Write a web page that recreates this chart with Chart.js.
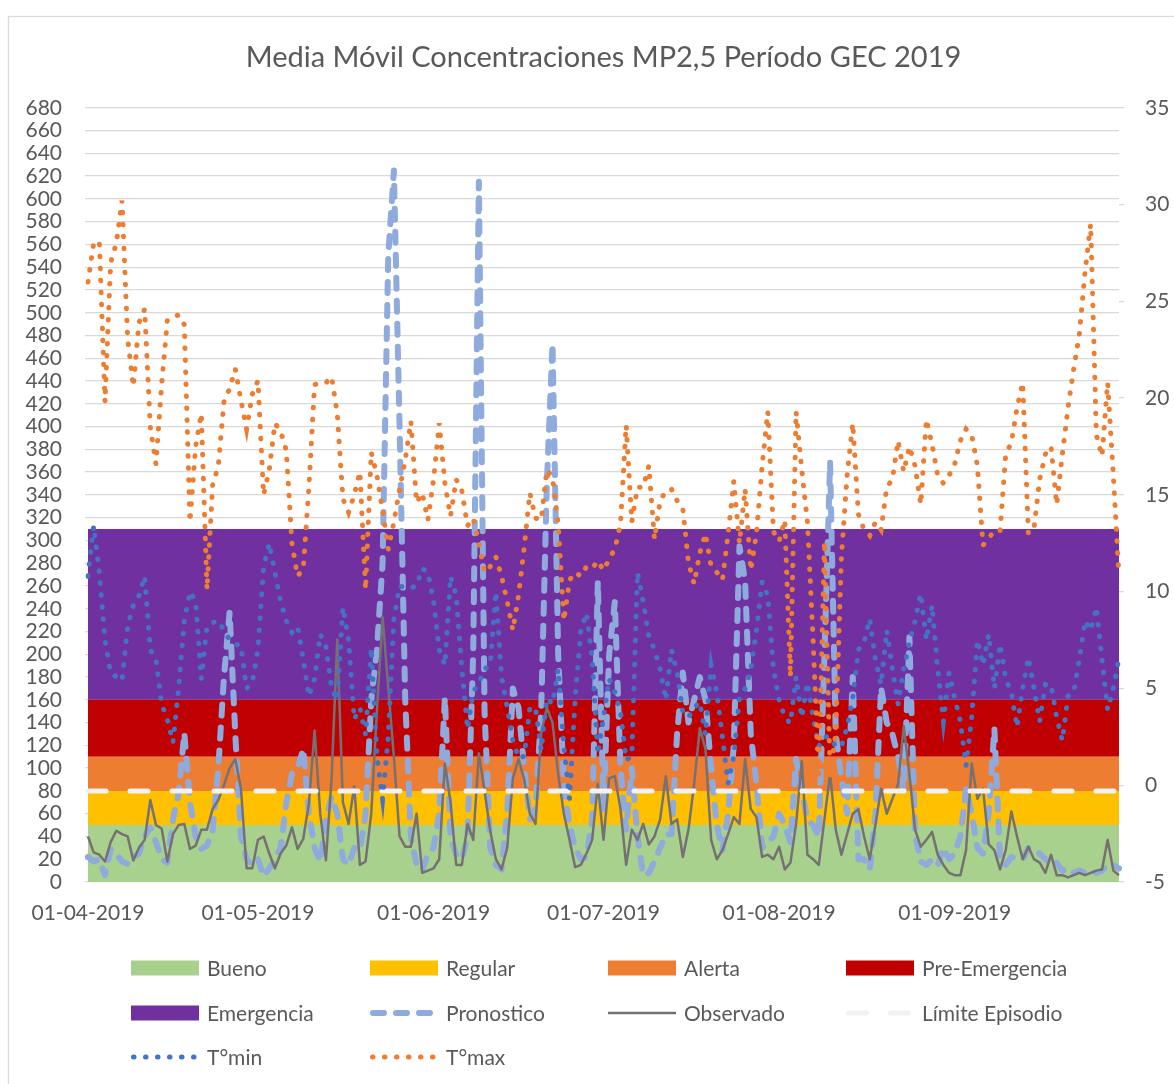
<!DOCTYPE html>
<html>
<head>
<meta charset="utf-8">
<script src="https://cdn.jsdelivr.net/npm/chart.js@4.4.1/dist/chart.umd.min.js"></script>
<style>
  html, body { margin: 0; padding: 0; background: #ffffff; }
  #wrap { position: relative; width: 1174px; height: 1084px; }
</style>
</head>
<body>
<div id="wrap"><canvas id="c" width="1174" height="1084"></canvas></div>
<script>
// ---------------- DATA ----------------
const chartTitle = 'Media Móvil Concentraciones MP2,5 Período GEC 2019';
const startDay = '2019-04-01';
const dayCount = 183;

const bandNames = ['Bueno', 'Regular', 'Alerta', 'Pre-Emergencia', 'Emergencia'];
const bandTops = [50, 80, 110, 160, 310];
const episodeLimit = 80;

const pronostico = [
  22, 18, 20, 6, 29, 25, 18, 16, 22, 25,
  40, 48, 35, 20, 17, 55, 78, 131, 70, 40,
  29, 32, 45, 100, 180, 237, 130, 40, 20, 15,
  20, 5, 12, 20, 30, 69, 95, 100, 117, 60,
  30, 18, 55, 75, 60, 20, 15, 30, 28, 60,
  160, 204, 280, 550, 625, 400, 160, 40, 15, 10,
  25, 30, 60, 162, 40, 24, 20, 40, 200, 615,
  150, 30, 15, 11, 60, 170, 153, 100, 55, 65,
  150, 350, 473, 200, 86, 50, 30, 20, 22, 55,
  264, 64, 200, 246, 100, 46, 100, 40, 6, 8,
  18, 30, 42, 42, 131, 184, 140, 160, 180, 160,
  100, 50, 28, 60, 120, 295, 264, 130, 86, 30,
  35, 40, 60, 50, 35, 108, 80, 55, 50, 40,
  198, 369, 130, 91, 60, 180, 20, 20, 11, 60,
  171, 140, 130, 110, 80, 215, 42, 18, 15, 20,
  15, 30, 20, 25, 40, 82, 60, 30, 25, 60,
  135, 20, 15, 22, 20, 20, 30, 28, 25, 20,
  15, 17, 10, 12, 8, 10, 8, 10, 8, 10,
  15, 15, 12
];

const observado = [
  40, 26, 24, 18, 35, 45, 42, 40, 19, 30,
  37, 72, 50, 47, 18, 42, 50, 51, 29, 32,
  46, 46, 64, 72, 85, 100, 108, 82, 12, 12,
  37, 40, 25, 12, 25, 32, 48, 29, 38, 69,
  133, 60, 19, 91, 213, 70, 51, 84, 15, 18,
  60, 150, 233, 171, 110, 40, 31, 31, 60, 8,
  10, 12, 20, 104, 70, 15, 15, 51, 37, 113,
  80, 45, 20, 11, 30, 91, 108, 90, 60, 51,
  131, 153, 140, 95, 60, 37, 13, 15, 25, 37,
  86, 37, 91, 93, 64, 15, 46, 37, 51, 33,
  40, 55, 93, 51, 55, 22, 46, 86, 135, 117,
  37, 20, 28, 42, 57, 51, 108, 64, 57, 22,
  24, 20, 31, 11, 17, 51, 106, 24, 20, 15,
  55, 95, 46, 24, 42, 60, 64, 40, 20, 50,
  82, 60, 73, 86, 137, 95, 46, 31, 37, 44,
  24, 15, 8, 6, 6, 28, 104, 73, 82, 33,
  28, 11, 28, 62, 40, 20, 31, 20, 17, 8,
  24, 6, 6, 4, 6, 8, 6, 8, 10, 11,
  37, 10, 6
];

const tMin = [
  10.8, 13.4, 11.0, 7.5, 5.8, 5.6, 5.4, 8.2, 9.3, 9.8,
  10.8, 7.0, 6.5, 4.2, 3.4, 2.2, 5.0, 8.5, 10.0, 9.5,
  5.5, 8.2, 8.4, 8.5, 8.0, 7.5, 7.3, 7.2, 5.0, 5.3,
  7.0, 11.3, 12.5, 11.0, 9.5, 8.5, 7.9, 8.2, 6.5, 4.6,
  5.5, 7.8, 7.2, 5.0, 4.4, 9.2, 7.5, 3.4, 4.0, 2.6,
  7.1, 1.5, -0.7, 2.5, 8.6, 10.3, 10.2, 10.2, 10.3, 11.2,
  11.0, 9.5, 7.0, 6.2, 10.8, 9.8, 6.0, 2.9, 4.8, 5.3,
  6.0, 6.2, 10.0, 5.6, 4.0, 2.3, 1.4, 1.5, 4.0, 4.0,
  1.8, 4.5, 4.2, 6.0, 2.0, -0.7, 4.5, 8.0, 8.9, 6.5,
  1.6, 3.5, 5.5, 4.8, 3.8, 1.3, 1.5, 11.0, 9.5, 7.7,
  7.0, 6.0, 4.4, 7.0, 5.8, 3.8, 3.5, 4.0, 4.3, 2.6,
  6.2, 4.8, 2.5, 0.1, 1.5, 4.5, 5.0, 6.0, 8.0, 10.5,
  9.8, 6.0, 4.4, 3.5, 3.2, 5.6, 3.5, 5.3, 3.5, 2.0,
  2.5, 2.5, 2.0, 2.0, 3.0, 4.5, 7.0, 7.4, 8.6, 6.5,
  5.2, 8.0, 6.0, 4.2, 6.0, 7.4, 8.5, 9.9, 7.5, 9.3,
  6.0, 3.3, 5.8, 4.5, 3.3, 1.0, 3.5, 7.5, 6.2, 7.8,
  5.0, 7.3, 5.5, 4.8, 3.0, 5.0, 6.6, 5.0, 3.3, 5.2,
  5.2, 3.5, 2.3, 4.6, 4.8, 6.5, 8.5, 8.0, 9.2, 6.5,
  3.9, 5.0, 6.6
];

const tMax = [
  26.0, 28.0, 28.1, 19.8, 27.0, 28.0, 30.2, 23.1, 20.6, 23.9,
  24.6, 18.5, 16.6, 20.7, 24.0, 24.2, 24.3, 23.8, 13.6, 17.5,
  19.2, 10.1, 15.5, 16.5, 19.8, 20.5, 21.5, 19.9, 18.4, 20.2,
  20.9, 15.0, 16.3, 18.7, 18.3, 17.3, 12.5, 10.8, 11.2, 15.4,
  20.7, 20.8, 20.8, 21.1, 19.2, 14.8, 14.1, 15.0, 16.2, 10.1,
  17.2, 16.0, 14.2, 12.2, 13.6, 15.3, 16.8, 18.8, 14.6, 15.1,
  13.7, 15.8, 18.7, 15.6, 13.9, 15.8, 15.2, 13.4, 13.8, 12.5,
  11.0, 11.3, 11.8, 10.8, 9.5, 8.0, 9.8, 12.3, 15.1, 13.8,
  13.7, 16.3, 15.9, 13.5, 8.5, 10.6, 11.0, 10.8, 11.3, 11.2,
  11.6, 11.1, 11.7, 12.2, 13.5, 18.6, 13.6, 15.4, 15.4, 16.5,
  12.7, 14.7, 15.2, 15.3, 14.7, 14.3, 11.5, 10.4, 12.0, 13.0,
  11.3, 11.0, 10.6, 13.0, 15.7, 12.5, 15.3, 11.1, 13.0, 16.5,
  19.3, 13.1, 12.6, 13.7, 5.6, 19.3, 16.3, 13.6, 7.5, 0.3,
  12.6, 0.5, 2.7, 11.8, 16.0, 18.7, 14.0, 13.2, 12.9, 13.6,
  13.2, 15.4, 15.8, 17.8, 16.2, 17.5, 16.5, 14.5, 18.9, 17.6,
  16.0, 15.6, 16.0, 16.6, 17.8, 18.4, 18.1, 16.5, 12.4, 12.8,
  13.1, 13.1, 17.1, 17.7, 19.5, 20.8, 13.0, 13.3, 15.8, 17.1,
  17.5, 14.5, 17.1, 19.5, 21.5, 23.3, 26.5, 29.0, 18.1, 17.0,
  20.8, 16.0, 10.8
];

// category labels (one per day)
const dates = [];
(function () {
  const [y, m, d] = startDay.split('-').map(Number);
  for (let i = 0; i < dayCount; i++) {
    const dt = new Date(Date.UTC(y, m - 1, d + i));
    dates.push(String(dt.getUTCDate()).padStart(2, '0') + '-' +
      String(dt.getUTCMonth() + 1).padStart(2, '0') + '-' + dt.getUTCFullYear());
  }
})();

// ---------------- STYLE ----------------
const FONT = 'Lato, "Open Sans", sans-serif';
const TXT = '#595959';
const bandColors = ['#a9d18e', '#ffc000', '#ed7d31', '#c00000', '#7030a0'];

const datasets = [];
bandNames.forEach((name, i) => {
  datasets.push({
    label: name,
    kind: 'band',
    data: dates.map(() => bandTops[i]),
    yAxisID: 'y',
    fill: i === 0 ? 'origin' : '-1',
    backgroundColor: bandColors[i],
    borderColor: 'rgba(0,0,0,0)',
    borderWidth: 0,
    pointRadius: 0,
    pointHitRadius: 0,
    order: 20
  });
});
datasets.push({
  label: 'Pronostico', data: pronostico, yAxisID: 'y',
  borderColor: '#8faadc', borderWidth: 6, borderDash: [11, 12],
  borderCapStyle: 'round', borderJoinStyle: 'round',
  fill: false, pointRadius: 0, pointHitRadius: 0, order: 5
});
datasets.push({
  label: 'Observado', data: observado, yAxisID: 'y',
  borderColor: '#767171', borderWidth: 2.5,
  borderJoinStyle: 'round',
  fill: false, pointRadius: 0, pointHitRadius: 0, order: 4
});
datasets.push({
  label: 'Límite Episodio', data: dates.map(() => episodeLimit), yAxisID: 'y',
  borderColor: '#f2f2f2', borderWidth: 5, borderDash: [18, 24],
  borderCapStyle: 'round',
  fill: false, pointRadius: 0, pointHitRadius: 0, order: 3
});
datasets.push({
  label: 'T°min', data: tMin, yAxisID: 'y1',
  borderColor: '#4472c4', borderWidth: 5, borderDash: [0.5, 11.5],
  borderCapStyle: 'round',
  fill: false, pointRadius: 0, pointHitRadius: 0, order: 2
});
datasets.push({
  label: 'T°max', data: tMax, yAxisID: 'y1',
  borderColor: '#ed7d31', borderWidth: 5, borderDash: [0.5, 11.5],
  borderCapStyle: 'round',
  fill: false, pointRadius: 0, pointHitRadius: 0, order: 1
});

// ---------------- PLUGINS ----------------
const frame = {
  id: 'frame',
  beforeDraw(chart) {
    const ctx = chart.ctx;
    ctx.save();
    ctx.fillStyle = '#ffffff';
    ctx.fillRect(0, 0, chart.width, chart.height);
    ctx.strokeStyle = '#d9d9d9';
    ctx.lineWidth = 1.3;
    ctx.strokeRect(8.5, 16.5, chart.width + 40, chart.height + 40);
    ctx.restore();
  }
};

const legendGrid = {
  id: 'legendGrid',
  afterDraw(chart, args, opts) {
    const ctx = chart.ctx;
    const cols = opts.cols, rows = opts.rows, sw = opts.swatchWidth;
    ctx.save();
    chart.data.datasets.forEach((ds, i) => {
      const x = cols[i % cols.length];
      const y = rows[Math.floor(i / cols.length)];
      if (ds.kind === 'band') {
        ctx.fillStyle = ds.backgroundColor;
        ctx.fillRect(x, y - 7.5, sw, 15);
      } else {
        ctx.beginPath();
        ctx.strokeStyle = ds.borderColor;
        ctx.lineWidth = ds.borderWidth;
        ctx.lineCap = ds.borderCapStyle || 'butt';
        ctx.setLineDash(ds.borderDash || []);
        const inset = ds.borderCapStyle === 'round' ? ds.borderWidth / 2 : 0;
        ctx.moveTo(x + inset, y);
        ctx.lineTo(x + sw - inset, y);
        ctx.stroke();
        ctx.setLineDash([]);
      }
      ctx.fillStyle = TXT;
      ctx.font = opts.font;
      ctx.textBaseline = 'middle';
      ctx.textAlign = 'left';
      ctx.fillText(ds.label, x + sw + opts.gap, y + 1);
    });
    ctx.restore();
  }
};

// ---------------- CHART ----------------
new Chart(document.getElementById('c'), {
  type: 'line',
  data: { labels: dates, datasets: datasets },
  plugins: [frame, legendGrid],
  options: {
    responsive: false,
    animation: false,
    devicePixelRatio: 1,
    events: [],
    elements: { line: { tension: 0 } },
    layout: { padding: { left: 0, right: 0, top: 0, bottom: 152 } },
    plugins: {
      legend: { display: false },
      tooltip: { enabled: false },
      title: {
        display: true,
        fullSize: false,
        text: chartTitle,
        color: TXT,
        font: { family: FONT, size: 29, weight: 'normal' },
        padding: { top: 40, bottom: 33 }
      },
      legendGrid: {
        cols: [131, 370, 608, 846],
        rows: [968, 1013, 1057],
        swatchWidth: 68,
        gap: 8,
        font: '21px ' + FONT
      }
    },
    scales: {
      x: {
        type: 'category',
        offset: false,
        grid: { display: false, drawTicks: false },
        border: { display: false },
        ticks: {
          autoSkip: false,
          maxRotation: 0,
          minRotation: 0,
          padding: 19,
          color: TXT,
          font: { family: FONT, size: 21 },
          callback: function (v, i) {
            return dates[i].startsWith('01-') ? dates[i] : null;
          }
        },
        afterFit(scale) { scale.height = 50; }
      },
      y: {
        position: 'left',
        min: 0, max: 680,
        grid: { color: '#d9d9d9', lineWidth: 1.3, tickLength: 3, drawTicks: true },
        border: { display: false },
        ticks: {
          stepSize: 20, autoSkip: false, padding: 23,
          color: TXT, font: { family: FONT, size: 21, lineHeight: 1 }
        },
        afterFit(scale) { scale.width = 88; }
      },
      y1: {
        position: 'right',
        min: -5, max: 35,
        grid: { drawOnChartArea: false, color: '#d9d9d9', tickLength: 5, lineWidth: 1.3 },
        border: { display: false },
        ticks: {
          stepSize: 5, autoSkip: false, padding: 21,
          color: TXT, font: { family: FONT, size: 21, lineHeight: 1 }
        },
        afterFit(scale) { scale.width = 55; }
      }
    }
  }
});
</script>
</body>
</html>
